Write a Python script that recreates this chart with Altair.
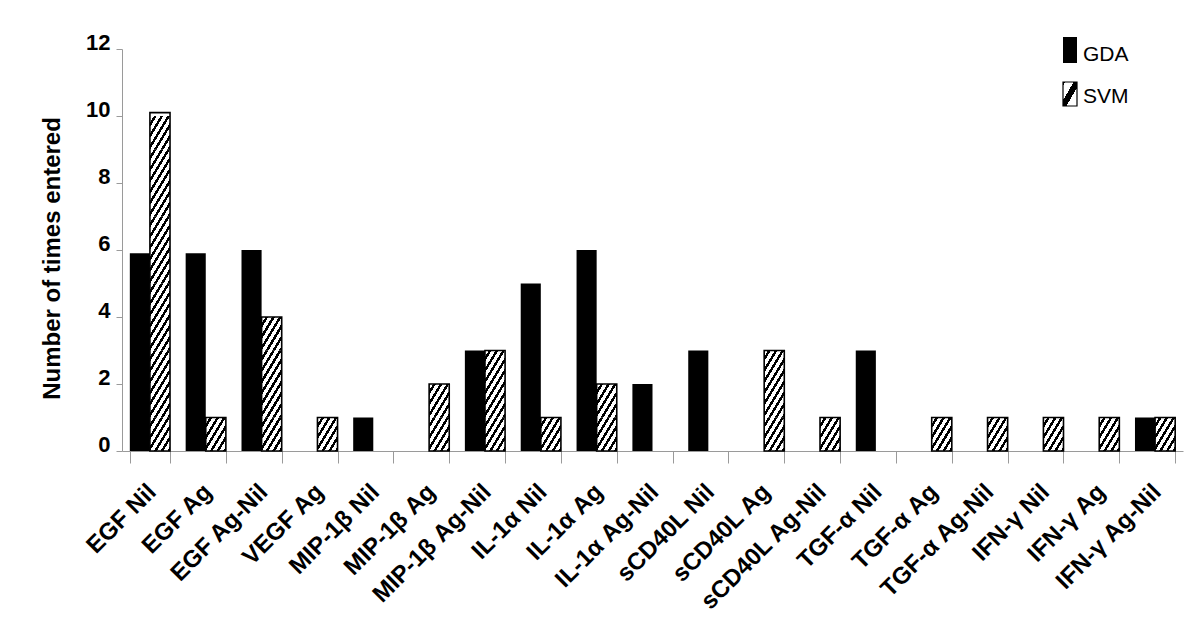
import altair as alt
import pandas as pd

categories = ["EGF Nil", "EGF Ag", "EGF Ag-Nil", "VEGF Ag", "MIP-1β Nil", "MIP-1β Ag",
              "MIP-1β Ag-Nil", "IL-1α Nil", "IL-1α Ag", "IL-1α Ag-Nil", "sCD40L Nil",
              "sCD40L Ag", "sCD40L Ag-Nil", "TGF-α Nil", "TGF-α Ag", "TGF-α Ag-Nil",
              "IFN-γ Nil", "IFN-γ Ag", "IFN-γ Ag-Nil"]
gda = [5.9, 5.9, 6, 0, 1, 0, 3, 5, 6, 2, 3, 0, 0, 3, 0, 0, 0, 0, 1]
svm = [10.1, 1, 4, 1, 0, 2, 3, 1, 2, 0, 0, 3, 1, 0, 1, 1, 1, 1, 1]
series = ["GDA", "SVM"]
y_ticks = [0, 2, 4, 6, 8, 10, 12]

rows = []
for c, g, s in zip(categories, gda, svm):
    rows.append({"category": c, "series": series[0], "value": g})
    rows.append({"category": c, "series": series[1], "value": s})
df = pd.DataFrame(rows)
legend_df = pd.DataFrame({"series": series})

FONT = "Liberation Sans"
AXIS_GRAY = "#9a9a9a"


def stripe_gradient(n, dark):
    stops = []
    for k in range(n):
        a = k / n
        m = (k + 1 - dark) / n
        b = (k + 1) / n
        stops += [alt.GradientStop(color="white", offset=a),
                  alt.GradientStop(color="white", offset=m),
                  alt.GradientStop(color="black", offset=m),
                  alt.GradientStop(color="black", offset=b)]
    return alt.LinearGradient(gradient="linear", stops=stops, x1=0, y1=0, x2=1, y2=1)


hatch_fill = stripe_gradient(6, 0.42)
legend_hatch = alt.LinearGradient(
    gradient="linear",
    stops=[alt.GradientStop(color="black", offset=0),
           alt.GradientStop(color="black", offset=0.08),
           alt.GradientStop(color="white", offset=0.08),
           alt.GradientStop(color="white", offset=0.38),
           alt.GradientStop(color="black", offset=0.38),
           alt.GradientStop(color="black", offset=0.62),
           alt.GradientStop(color="white", offset=0.62),
           alt.GradientStop(color="white", offset=1)],
    x1=0, y1=0, x2=1, y2=1)

x_enc = alt.X(
    "category:N", sort=categories,
    scale=alt.Scale(paddingInner=0.28, paddingOuter=0.14),
    axis=alt.Axis(title=None, labelAngle=-45, labelAlign="right", labelBaseline="middle",
                  labelFont=FONT, labelFontSize=24, labelFontWeight="bold", labelColor="black",
                  labelPadding=25, labelOffset=2, labelLimit=400, labelOverlap=False,
                  tickSize=12, tickBand="extent", tickColor=AXIS_GRAY,
                  domainColor=AXIS_GRAY, grid=False))
xo_enc = alt.XOffset("series:N", scale=alt.Scale(domain=series))
y_axis = alt.Axis(values=y_ticks, title="Number of times entered", grid=False,
                  labelFont=FONT, labelFontSize=22, labelFontWeight="bold", labelColor="black",
                  labelBaseline="alphabetic", labelPadding=6, tickSize=6,
                  tickColor=AXIS_GRAY, domainColor=AXIS_GRAY,
                  titleFont=FONT, titleFontSize=24, titleFontWeight="bold", titleColor="black",
                  titleAngle=-90, titleX=-63, titleY=209, titleAlign="center",
                  titleBaseline="alphabetic")
y_scale = alt.Scale(domain=[0, 12])

base = alt.Chart(df)

gda_bars = base.transform_filter(alt.datum.series == series[0]).mark_bar(
    fill="black").encode(
    x=x_enc, xOffset=xo_enc,
    y=alt.Y("value:Q", scale=y_scale, axis=y_axis))

svm_hatch = base.transform_filter(alt.datum.series == series[1]).transform_calculate(
    seg="sequence(0, floor(datum.value))"
).transform_flatten(["seg"]).transform_calculate(
    y0="datum.seg", y1="datum.seg + 1"
).mark_bar(fill=hatch_fill, strokeWidth=0).encode(
    x=x_enc, xOffset=xo_enc,
    y=alt.Y("y0:Q", scale=y_scale, axis=y_axis), y2="y1:Q")

svm_outline = base.transform_filter(
    (alt.datum.series == series[1]) & (alt.datum.value > 0)
).mark_bar(fillOpacity=0, stroke="black", strokeWidth=1.6).encode(
    x=x_enc, xOffset=xo_enc,
    y=alt.Y("value:Q", scale=y_scale, axis=y_axis))

leg = alt.Chart(legend_df)
leg_gda_sym = leg.transform_filter(alt.datum.series == series[0]).mark_rect(fill="black").encode(
    x=alt.value(941), x2=alt.value(955), y=alt.value(-12), y2=alt.value(14))
leg_svm_sym = leg.transform_filter(alt.datum.series == series[1]).mark_rect(
    fill=legend_hatch, stroke="black", strokeWidth=1.2).encode(
    x=alt.value(941), x2=alt.value(955), y=alt.value(33), y2=alt.value(57))
leg_text_gda = leg.transform_filter(alt.datum.series == series[0]).mark_text(
    align="left", baseline="alphabetic", font=FONT, fontSize=21, color="black").encode(
    x=alt.value(961), y=alt.value(12), text="series:N")
leg_text_svm = leg.transform_filter(alt.datum.series == series[1]).mark_text(
    align="left", baseline="alphabetic", font=FONT, fontSize=21, color="black").encode(
    x=alt.value(961), y=alt.value(54), text="series:N")

chart = alt.layer(
    gda_bars, svm_hatch, svm_outline,
    leg_gda_sym, leg_svm_sym, leg_text_gda, leg_text_svm
).properties(
    width=1061, height=402,
    padding={"left": 114, "top": 41, "right": 9, "bottom": 170},
    autosize=alt.AutoSizeParams(type="none"),
    background="white"
).configure_view(stroke="transparent")

chart.save("out.html", embed_options={"renderer": "svg", "actions": False})
